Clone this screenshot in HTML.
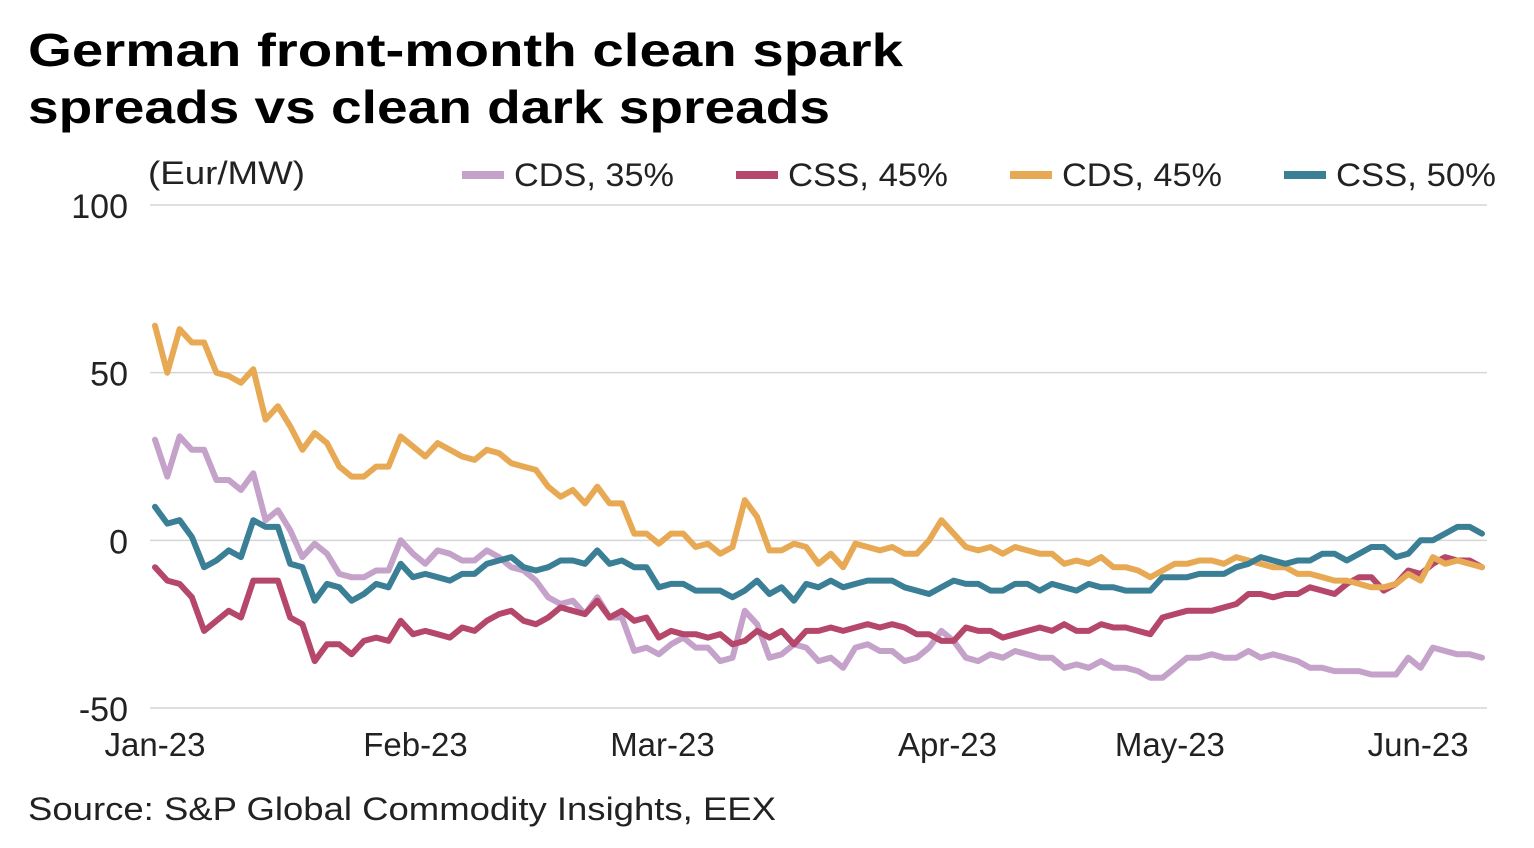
<!DOCTYPE html>
<html><head><meta charset="utf-8"><style>
html,body{margin:0;padding:0;background:#fff;}
svg{display:block;font-family:"Liberation Sans",sans-serif;}
</style></head><body>
<svg id="chart" width="1534" height="848" viewBox="0 0 1534 848" xmlns="http://www.w3.org/2000/svg">
<text x="28" y="66" font-size="46" font-weight="bold" fill="#000" textLength="875" lengthAdjust="spacingAndGlyphs">German front-month clean spark</text>
<text x="28" y="123" font-size="46" font-weight="bold" fill="#000" textLength="802" lengthAdjust="spacingAndGlyphs">spreads vs clean dark spreads</text>
<text x="148" y="184" font-size="32" fill="#222" textLength="157" lengthAdjust="spacingAndGlyphs">(Eur/MW)</text>
<g id="legend"></g>
<g id="grid"></g>
<g id="series"></g>
<g id="xticks"></g>
<text x="28" y="820" font-size="32" fill="#222" textLength="748" lengthAdjust="spacingAndGlyphs">Source: S&amp;P Global Commodity Insights, EEX</text>
</svg>
<script>
const seriesNames = ["CDS, 35%","CSS, 45%","CDS, 45%","CSS, 50%"];
const seriesColors = ["#c4a2ca","#b5476a","#e8a954","#3b7f96"];
const cds35 = [30,19,31,27,27,18,18,15,20,6,9,3,-5,-1,-4,-10,-11,-11,-9,-9,0,-4,-7,-3,-4,-6,-6,-3,-5,-8,-9,-12,-17,-19,-18,-22,-17,-23,-23,-33,-32,-34,-31,-29,-32,-32,-36,-35,-21,-25,-35,-34,-31,-32,-36,-35,-38,-32,-31,-33,-33,-36,-35,-32,-27,-30,-35,-36,-34,-35,-33,-34,-35,-35,-38,-37,-38,-36,-38,-38,-39,-41,-41,-38,-35,-35,-34,-35,-35,-33,-35,-34,-35,-36,-38,-38,-39,-39,-39,-40,-40,-40,-35,-38,-32,-33,-34,-34,-35];
const css45 = [-8,-12,-13,-17,-27,-24,-21,-23,-12,-12,-12,-23,-25,-36,-31,-31,-34,-30,-29,-30,-24,-28,-27,-28,-29,-26,-27,-24,-22,-21,-24,-25,-23,-20,-21,-22,-18,-23,-21,-24,-23,-29,-27,-28,-28,-29,-28,-31,-30,-27,-29,-27,-31,-27,-27,-26,-27,-26,-25,-26,-25,-26,-28,-28,-30,-30,-26,-27,-27,-29,-28,-27,-26,-27,-25,-27,-27,-25,-26,-26,-27,-28,-23,-22,-21,-21,-21,-20,-19,-16,-16,-17,-16,-16,-14,-15,-16,-13,-11,-11,-15,-13,-9,-10,-7,-5,-6,-6,-8];
const cds45 = [64,50,63,59,59,50,49,47,51,36,40,34,27,32,29,22,19,19,22,22,31,28,25,29,27,25,24,27,26,23,22,21,16,13,15,11,16,11,11,2,2,-1,2,2,-2,-1,-4,-2,12,7,-3,-3,-1,-2,-7,-4,-8,-1,-2,-3,-2,-4,-4,0,6,2,-2,-3,-2,-4,-2,-3,-4,-4,-7,-6,-7,-5,-8,-8,-9,-11,-9,-7,-7,-6,-6,-7,-5,-6,-7,-8,-8,-10,-10,-11,-12,-12,-13,-14,-14,-13,-10,-12,-5,-7,-6,-7,-8];
const css50 = [10,5,6,1,-8,-6,-3,-5,6,4,4,-7,-8,-18,-13,-14,-18,-16,-13,-14,-7,-11,-10,-11,-12,-10,-10,-7,-6,-5,-8,-9,-8,-6,-6,-7,-3,-7,-6,-8,-8,-14,-13,-13,-15,-15,-15,-17,-15,-12,-16,-14,-18,-13,-14,-12,-14,-13,-12,-12,-12,-14,-15,-16,-14,-12,-13,-13,-15,-15,-13,-13,-15,-13,-14,-15,-13,-14,-14,-15,-15,-15,-11,-11,-11,-10,-10,-10,-8,-7,-5,-6,-7,-6,-6,-4,-4,-6,-4,-2,-2,-5,-4,0,0,2,4,4,2];
const yTicks = [100,50,0,-50];
const xTickLabels = ["Jan-23","Feb-23","Mar-23","Apr-23","May-23","Jun-23"];
const xTickIdx = [0,21.2,41.3,64.5,82.6,102.8];

const NS="http://www.w3.org/2000/svg";
const X0=155,X1=1482,Y100=205,Y_50=708;
const N=cds35.length;
function xScale(i){return X0+i*(X1-X0)/(N-1);}
function yScale(v){return Y100+(100-v)*(Y_50-Y100)/150;}
function mk(tag,attrs,parent){const e=document.createElementNS(NS,tag);for(const k in attrs)e.setAttribute(k,attrs[k]);parent.appendChild(e);return e;}

const grid=document.getElementById('grid');
yTicks.forEach(t=>{
  const l=mk('line',{x1:150,x2:1487,y1:yScale(t),y2:yScale(t),stroke:'#d6d6d6','stroke-width':1.5},grid);
  
  
  const tx=mk('text',{x:128,y:yScale(t)+13,'font-size':34,fill:'#222','text-anchor':'end'},grid);
  tx.textContent=t;
  
  
});
const xt=document.getElementById('xticks');
xTickLabels.forEach((lab,k)=>{
  const tx=mk('text',{x:xScale(xTickIdx[k]),y:756,'font-size':33,fill:'#222','text-anchor':'middle'},xt);
  tx.textContent=lab;
  
  
});
const all=[cds35,css45,cds45,css50];
const sg=document.getElementById('series');
all.forEach((arr,s)=>{
  const d=arr.map((v,i)=>(i?'L':'M')+xScale(i).toFixed(1)+','+yScale(v).toFixed(1)).join(' ');
  const p=mk('path',{d:d,fill:'none',stroke:seriesColors[s],'stroke-width':6,'stroke-linejoin':'round','stroke-linecap':'round'},sg);
  
  
});
const lg=document.getElementById('legend');
const legX=[462,736,1010,1284];
seriesNames.forEach((n,s)=>{
  const g=mk('g',{},lg);
  
  
  mk('rect',{x:legX[s],y:171,width:42,height:8,fill:seriesColors[s]},g);
  const t=mk('text',{x:legX[s]+52,y:186,'font-size':32,fill:'#222',textLength:160,lengthAdjust:'spacingAndGlyphs'},g);
  t.textContent=n;
});
</script>
</body></html>
